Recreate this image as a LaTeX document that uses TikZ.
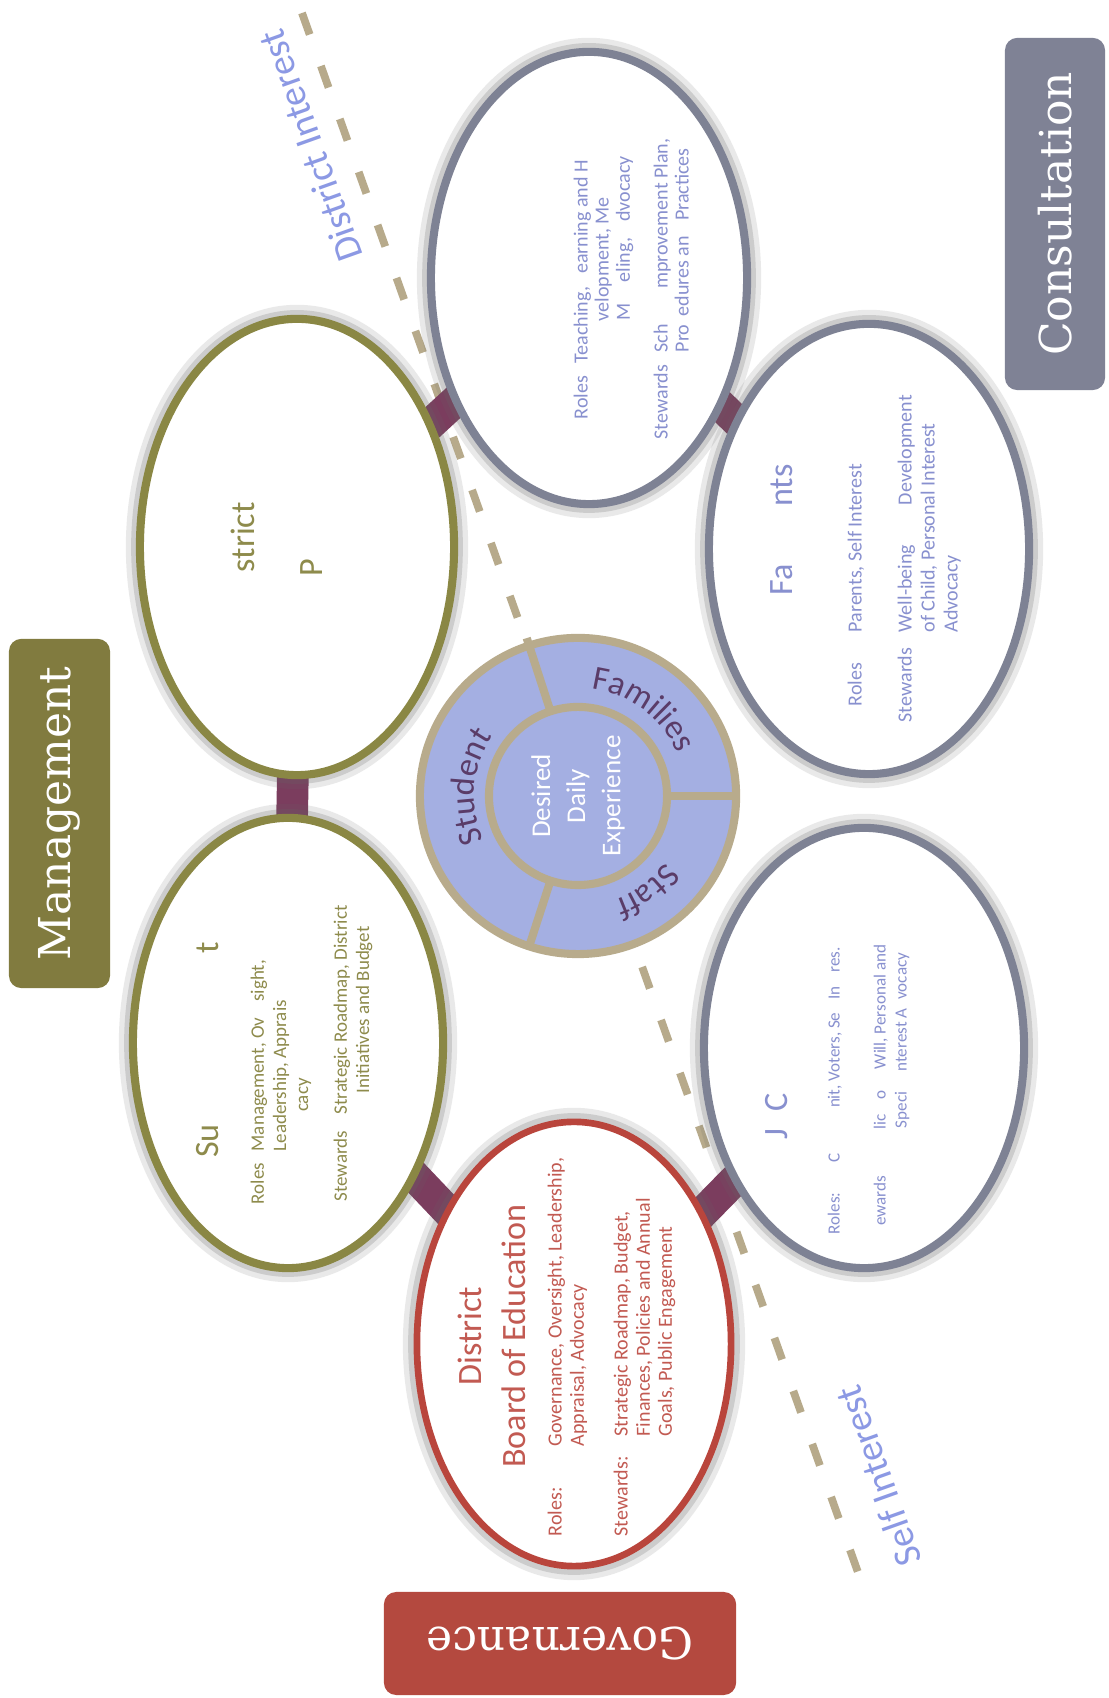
\documentclass[tikz,border=0pt]{standalone}
\usepackage{fontspec}
\setmainfont{Carlito}
\newfontfamily\slabfont{DejaVu Serif}
\usetikzlibrary{shapes.geometric,decorations.text,calc}
\definecolor{olv}{HTML}{8A8744}
\definecolor{olvtxt}{HTML}{8E8B4C}
\definecolor{rdb}{HTML}{B9453C}
\definecolor{rdtxt}{HTML}{C25A52}
\definecolor{gyb}{HTML}{7E8294}
\definecolor{gytxt}{HTML}{8890CF}
\definecolor{mgtf}{HTML}{817B3F}
\definecolor{govf}{HTML}{B4493F}
\definecolor{conf}{HTML}{7F8295}
\definecolor{connc}{HTML}{7B3D5E}
\definecolor{dashc}{HTML}{B7AA8B}
\definecolor{hubf}{HTML}{A4AFE2}
\definecolor{hubb}{HTML}{B8AB8C}
\definecolor{ringt}{HTML}{5A3C68}
\definecolor{intc}{HTML}{8C99E4}
\newcommand\bodyA{\fontsize{5.7}{6.3}\selectfont}
\newcommand\bodyB{\fontsize{5.4}{6.3}\selectfont}
\newcommand\bodyC{\fontsize{4.85}{6}\selectfont}
\newcommand\bodyD{\fontsize{5.7}{6.55}\selectfont}
\newcommand\bodyE{\fontsize{5.7}{6}\selectfont}
\newcommand\ttlf{\fontsize{9.7}{12.5}\selectfont}
\newcommand\ringfont{\fontsize{9.7}{11}\selectfont}
\pgfdeclarelayer{back}
\pgfdeclarelayer{bg}
\pgfsetlayers{back,bg,main}
\begin{document}
\begin{tikzpicture}[x=0.01cm,y=0.01cm,
  ell/.style={ellipse, fill=white, inner sep=0pt, line width=2.3pt,
    preaction={draw=black!60, draw opacity=0.14, line width=8pt},
    preaction={draw=black!60, draw opacity=0.22, line width=5pt}},
  bod/.style={rotate=90, anchor=north west, inner sep=0pt, align=left},
  ttl/.style={rotate=90, anchor=north, inner sep=0pt, align=center, font=\ttlf},
  lbox/.style={rounded corners=3.5pt, inner sep=0pt, text=white, font=\slabfont\fontsize{12.5}{14}\selectfont},
  conn/.style={connc, line width=9pt},
  divl/.style={hubb, line width=2.3pt},
  ringtext/.style={decorate, decoration={text along path, text align=center, text color=ringt}},
  intlab/.style={rotate=109.6, text=intc, font=\fontsize{11}{13}\selectfont}]
\useasboundingbox (0,0) rectangle (1108,1698);
\begin{pgfonlayer}{back}
\fill[white] (0,0) rectangle (1108,1698);
\end{pgfonlayer}

% ellipses
\node[ell, draw=olv, minimum width=3.14cm, minimum height=4.56cm] (e1) at (297,1698-547) {};
\node[ell, draw=olv, minimum width=3.10cm, minimum height=4.50cm] (e2) at (288,1698-1043) {};
\node[ell, draw=rdb, line width=1.9pt, minimum width=3.14cm, minimum height=4.44cm] (e3) at (574,1698-1344) {};
\node[ell, draw=gyb, minimum width=3.20cm, minimum height=4.40cm] (e4) at (864,1698-1048) {};
\node[ell, draw=gyb, minimum width=3.20cm, minimum height=4.50cm] (e5) at (869,1698-549) {};
\node[ell, draw=gyb, minimum width=3.16cm, minimum height=4.52cm] (e6) at (589,1698-278) {};

% background: dashed divider and connectors
\begin{pgfonlayer}{bg}
\coordinate (dtop) at (302,1698-13);
\coordinate (dbot) at (865,1698-1592);
\draw[dashc, line width=2.2pt, dash pattern=on 6.5pt off 9.5pt] (dtop) -- (dbot);
\draw[conn] (e1.center) -- (e2.center);
\draw[conn] (e2.center) -- (e3.center);
\draw[conn] (e3.center) -- (e4.center);
\draw[conn] (e5.center) -- (e6.center);
\draw[conn] (e6.center) -- (e1.center);
\end{pgfonlayer}

% hub
\node[circle, fill=hubf, draw=hubb, line width=2.3pt, minimum size=3.16cm, inner sep=0pt] (hub) at (578,1698-796) {};
\foreach \a/\r in {108/166,0/158,252/158}
  \draw[divl] ($(hub.center)+(\a:89)$) -- ($(hub.center)+(\a:\r)$);
\node[circle, draw=hubb, line width=2.3pt, minimum size=1.78cm, inner sep=0pt] (core) at (hub.center) {};
\node[rotate=90, text=white, align=center, font=\fontsize{7.7}{10}\selectfont] (ddx) at (hub.center) {Desired\\Daily\\Experience};
\path[ringtext, decoration={text={|\ringfont|Student}}] ($(hub.center)+(210:104)$) arc[start angle=210, end angle=140, radius=104];
\path[ringtext, decoration={text={|\ringfont|Families}}] ($(hub.center)+(92:108)$) arc[start angle=92, end angle=14, radius=108];
\path[ringtext, decoration={text={|\ringfont|Staff}}] ($(hub.center)+(-20:110)$) arc[start angle=-20, end angle=-88, radius=110];

% interest labels
\node[intlab] (dint) at (310,1698-146) {District Interest};
\node[intlab] (sint) at (878,1698-1476) {Self Interest};

% side boxes
\node[lbox, fill=mgtf, rotate=90, minimum width=3.49cm, minimum height=1.01cm] (mgt) at (59.5,1698-813.5) {Management};
\node[lbox, fill=govf, rotate=180, minimum width=3.52cm, minimum height=1.03cm] (gov) at (560,1698-1643.5) {Governance};
\node[lbox, fill=conf, rotate=90, minimum width=3.52cm, minimum height=1.00cm] (con) at (1055,1698-214) {Consultation};

% E3 Board of Education
\node[ttl, text=rdtxt] (t3) at (457,1698-1336) {District\\Board of Education};
\node[bod, text=rdtxt, font=\bodyA] (r3l) at (547,1698-1537) {Roles:};
\node[bod, text=rdtxt, font=\bodyA] (r3) at (547,1698-1447) {Governance, Oversight, Leadership,\\Appraisal, Advocacy};
\node[bod, text=rdtxt, font=\bodyA] (s3l) at (613,1698-1537) {Stewards:};
\node[bod, text=rdtxt, font=\bodyA] (s3) at (613,1698-1437) {Strategic Roadmap, Budget,\\Finances, Policies and Annual\\Goals, Public Engagement};

% E2 Superintendent
\node[ttl, text=olvtxt] (t2) at (150,1698-1050) {\phantom{District}\\Su\phantom{perintenden}t};
\node[bod, text=olvtxt, font=\bodyB] (r2l) at (250,1698-1205) {Roles};
\node[bod, text=olvtxt, font=\bodyB] (r2) at (250,1698-1152) {Management, Ov\phantom{er}sight,\\Leadership, Apprais\phantom{al,}\\\phantom{Advo}cacy};
\node[bod, text=olvtxt, font=\bodyB] (s2l) at (333,1698-1202) {Stewards};
\node[bod, text=olvtxt, font=\bodyB, align=center] (s2) at (333,1698-1115) {Strategic Roadmap, District\\Initiatives and Budget};

% E4
\node[bod, text=gytxt, font=\ttlf] (t4) at (765,1698-1140) {J\hspace{0.5em}C};
\node[bod, text=gytxt, font=\bodyC] (r4l) at (827,1698-1235) {Roles:};
\node[bod, text=gytxt, font=\bodyC] (r4) at (827,1698-1163) {C\phantom{ommu}nit, Voters, Se\phantom{lf} In\phantom{te}res.};
\node[bod, text=gytxt, font=\bodyC] (s4l) at (873,1698-1240) {\phantom{St}ewards};
\node[bod, text=gytxt, font=\bodyC] (s4) at (873,1698-1157) {\phantom{Pub}lic \phantom{G}o\phantom{od} Will, Personal and\\\hspace*{8pt}Speci\phantom{al I}nterest A\phantom{d}vocacy};

% E5
\node[ttl, text=gytxt] (t5) at (770,1698-530) {Fa\hspace{1.7em}nts};
\node[bod, text=gytxt, font=\bodyD] (r5l) at (847,1698-707) {Roles};
\node[bod, text=gytxt, font=\bodyD] (r5) at (847,1698-633) {Parents, Self Interest};
\node[bod, text=gytxt, font=\bodyD] (s5l) at (897,1698-723) {Stewards};
\node[bod, text=gytxt, font=\bodyD] (s5) at (897,1698-633) {Well-being \phantom{and} Development\\of Child, Personal Interest\\Advocacy};

% E6
\node[bod, text=gytxt, font=\bodyE] (r6l) at (573,1698-420) {Roles};
\node[bod, text=gytxt, font=\bodyE, align=center] (r6) at (573,1698-364) {Teaching, \phantom{L}earning and H\phantom{uman}\\\phantom{De}velopment, Me\phantom{ntoring,}\\M\phantom{od}eling, \phantom{A}dvocacy};
\node[bod, text=gytxt, font=\bodyE] (s6l) at (653,1698-440) {Stewards};
\node[bod, text=gytxt, font=\bodyE] (s6) at (653,1698-353) {Sch\phantom{ool I}mprovement Plan,\\Pro\phantom{c}edures an\phantom{d} Practices};

% E1
\node[bod, text=olvtxt, font=\ttlf] (t1a) at (230,1698-573) {strict};
\node[bod, text=olvtxt, font=\ttlf] (t1b) at (300,1698-577) {P};
\end{tikzpicture}
\end{document}
